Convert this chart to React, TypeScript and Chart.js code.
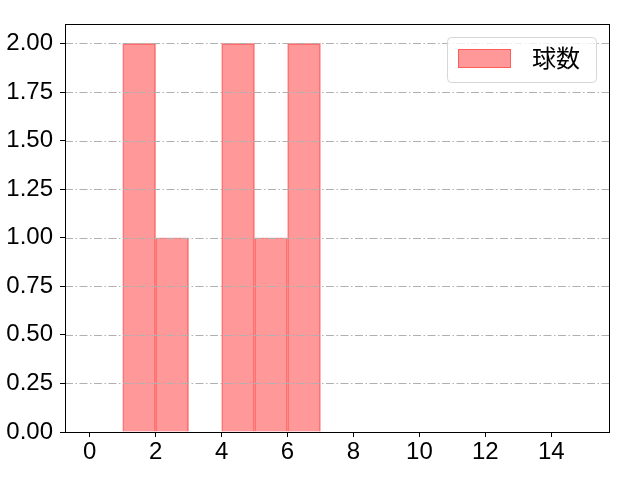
import React, { useEffect, useRef } from "react";
import { Chart, registerables } from "chart.js";

Chart.register(...registerables);

const binCenters = [1.5, 2.5, 4.5, 5.5, 6.5];
const counts = [2, 1, 2, 1, 2];
const seriesLabel = "球数";
const xTicks = [0, 2, 4, 6, 8, 10, 12, 14];
const yTicks = [0, 0.25, 0.5, 0.75, 1.0, 1.25, 1.5, 1.75, 2.0];

const TICK_FONT = "'Liberation Sans', 'Noto Sans', sans-serif";
const CJK_FONT = "'Noto Sans CJK JP', 'Noto Sans', sans-serif";

const gridPlugin = {
  id: "mplGrid",
  afterDatasetsDraw(chart: any) {
    const { ctx, chartArea, scales } = chart;
    ctx.save();
    ctx.strokeStyle = "#b0b0b0";
    ctx.lineWidth = 1;
    ctx.setLineDash([8, 2.5, 1.5, 2.5]);
    for (const v of yTicks) {
      const y = Math.round(scales.y.getPixelForValue(v)) + 0.5;
      ctx.beginPath();
      ctx.moveTo(chartArea.left, y);
      ctx.lineTo(chartArea.right, y);
      ctx.stroke();
    }
    ctx.restore();
    ctx.save();
    ctx.strokeStyle = "#000";
    ctx.lineWidth = 1;
    ctx.strokeRect(
      Math.round(chartArea.left) + 0.5,
      Math.round(chartArea.top) + 0.5,
      Math.round(chartArea.right - chartArea.left),
      Math.round(chartArea.bottom - chartArea.top)
    );
    ctx.restore();
  },
  afterDraw(chart: any) {
    const { ctx } = chart;
    const ds = chart.data.datasets[0];
    const x0 = 447.5, y0 = 37.5, w = 149, h = 45;
    ctx.save();
    ctx.fillStyle = "rgba(255,255,255,0.8)";
    ctx.strokeStyle = "#d6d6d6";
    ctx.lineWidth = 1;
    ctx.beginPath();
    (ctx as any).roundRect(x0, y0, w, h, 4);
    ctx.fill();
    ctx.stroke();
    ctx.fillStyle = ds.backgroundColor;
    ctx.fillRect(458, 49, 53, 19);
    ctx.strokeStyle = ds.borderColor;
    ctx.strokeRect(458.5, 49.5, 52, 18);
    ctx.fillStyle = "#000";
    ctx.font = `24px ${CJK_FONT}`;
    ctx.textBaseline = "middle";
    ctx.textAlign = "left";
    ctx.fillText(ds.label, 532, 58);
    ctx.restore();
  },
};

export default function App() {
  const ref = useRef<HTMLCanvasElement>(null);
  useEffect(() => {
    document.body.style.margin = "0";
    const chart = new Chart(ref.current!, {
      type: "bar",
      data: {
        datasets: [
          {
            label: seriesLabel,
            data: binCenters.map((x, i) => ({ x, y: counts[i] })),
            backgroundColor: "rgba(255,0,0,0.4)",
            borderColor: "rgba(255,0,0,0.4)",
            borderWidth: 1,
            barPercentage: 1,
            categoryPercentage: 1,
          },
        ],
      },
      options: {
        animation: false,
        responsive: false,
        devicePixelRatio: 1,
        layout: { padding: { left: 0, right: 31, top: 24, bottom: 0 } },
        plugins: { legend: { display: false }, tooltip: { enabled: false } },
        scales: {
          x: {
            type: "linear",
            min: -0.75,
            max: 15.75,
            offset: false,
            afterBuildTicks: (s: any) => {
              s.ticks = xTicks.map((v) => ({ value: v }));
            },
            afterFit: (s: any) => {
              s.height = 48;
            },
            grid: {
              offset: false,
              drawOnChartArea: false,
              tickLength: 5,
              color: "#000",
            },
            border: { display: false },
            ticks: {
              color: "#000",
              font: { family: TICK_FONT, size: 24, lineHeight: 1.0 },
              padding: 3,
              maxRotation: 0,
              autoSkip: false,
              callback: (v: any) => String(v),
            },
          },
          y: {
            min: 0,
            max: 2.1,
            afterBuildTicks: (s: any) => {
              s.ticks = yTicks.map((v) => ({ value: v }));
            },
            afterFit: (s: any) => {
              s.width = 65;
            },
            grid: {
              drawOnChartArea: false,
              tickLength: 5,
              color: "#000",
            },
            border: { display: false },
            ticks: {
              color: "#000",
              font: { family: TICK_FONT, size: 24 },
              padding: 7,
              autoSkip: false,
              callback: (v: any) => Number(v).toFixed(2),
            },
          },
        },
      },
      plugins: [gridPlugin],
    } as any);
    return () => chart.destroy();
  }, []);
  return <canvas ref={ref} width={640} height={480} style={{ display: "block" }} />;
}
